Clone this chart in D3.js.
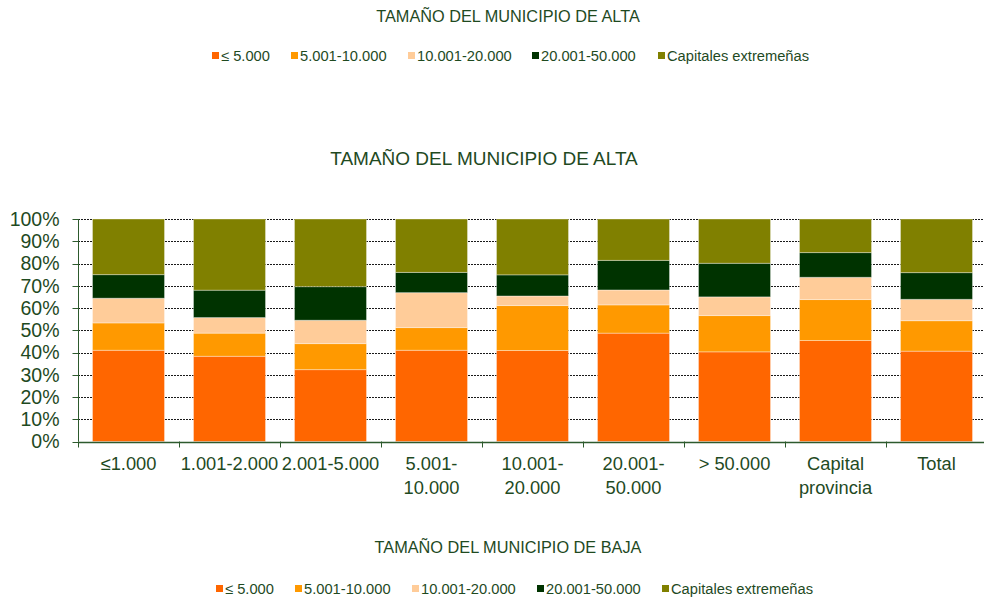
<!DOCTYPE html>
<html>
<head>
<meta charset="utf-8">
<script src="https://cdn.jsdelivr.net/npm/d3@7"></script>
<style>
  body { margin: 0; background: #fff; }
  svg text { font-family: "Liberation Sans", Arial, sans-serif; fill: #1f4a1f; }
</style>
</head>
<body>
<svg id="chart" width="984" height="601"></svg>
<script>
// categories on the x axis (\n = line break)
const categories = ['≤1.000', '1.001-2.000', '2.001-5.000', '5.001-\n10.000', '10.001-\n20.000',
  '20.001-\n50.000', '> 50.000', 'Capital\nprovincia', 'Total']

const seriesNames = ['≤ 5.000', '5.001-10.000', '10.001-20.000', '20.001-50.000', 'Capitales extremeñas']
const seriesColors = ['#ff6600', '#ff9900', '#ffcc99', '#003300', '#808000']

// percentages, one array per series
const hasta5000 = [41.0, 38.3, 32.3, 41.0, 40.9, 48.7, 40.3, 45.4, 40.6]
const de5a10mil = [12.3, 10.4, 11.7, 10.2, 20.2, 12.7, 16.3, 18.4, 13.7]
const de10a20mil = [11.1, 7.0, 10.5, 15.7, 4.3, 6.7, 8.4, 10.0, 9.6]
const de20a50mil = [10.6, 12.3, 15.1, 9.1, 9.5, 13.3, 15.1, 11.1, 12.0]
const capitales = [25.0, 32.0, 30.4, 24.0, 25.1, 18.6, 19.9, 15.1, 24.1]

const yTicks = d3.range(0, 1.01, 0.1)

let svg = d3.select('#chart')

// build rows for d3.stack
let rows = categories.map((c, i) => ({
  cat: c,
  s0: hasta5000[i], s1: de5a10mil[i], s2: de10a20mil[i], s3: de20a50mil[i], s4: capitales[i]
}))
let keys = ['s0', 's1', 's2', 's3', 's4']
let stacked = d3.stack().keys(keys).offset(d3.stackOffsetExpand)(rows)

let x = d3.scaleBand()
  .domain(categories)
  .range([78, 987])
  .paddingInner(0.287)
  .paddingOuter(0.1435)

let y = d3.scaleLinear().domain([0, 1]).range([441.5, 219])

// gridlines
svg.append('g')
  .selectAll('line')
  .data(yTicks.filter(t => t > 0))
  .join('line')
  .attr('x1', 78).attr('x2', 984)
  .attr('y1', d => Math.round(y(d)) + 0.5)
  .attr('y2', d => Math.round(y(d)) + 0.5)
  .attr('stroke', '#1a1a1a')
  .attr('stroke-dasharray', '2,1')
  .attr('stroke-width', 1)

// bars
svg.append('g')
  .selectAll('g')
  .data(stacked)
  .join('g')
  .attr('fill', (d, i) => seriesColors[i])
  .selectAll('rect')
  .data(d => d)
  .join('rect')
  .attr('x', d => x(d.data.cat))
  .attr('width', x.bandwidth())
  .attr('y', d => y(d[1]))
  .attr('height', d => y(d[0]) - y(d[1]))
  .attr('stroke', 'rgba(255,255,255,0.35)')
  .attr('stroke-width', 1)

// y axis
let yAxis = svg.append('g').attr('transform', 'translate(78.5,0)')
yAxis.append('line')
  .attr('y1', y(1)).attr('y2', y(0))
  .attr('stroke', '#2d5a2d')
yAxis.selectAll('.tk')
  .data(yTicks)
  .join('line')
  .attr('x1', -6).attr('x2', 0)
  .attr('y1', d => Math.round(y(d)) + 0.5)
  .attr('y2', d => Math.round(y(d)) + 0.5)
  .attr('stroke', '#2d5a2d')
yAxis.selectAll('text')
  .data(yTicks)
  .join('text')
  .attr('x', -19)
  .attr('y', d => y(d))
  .attr('dy', '0.35em')
  .attr('text-anchor', 'end')
  .attr('font-size', '19.5px')
  .text(d => d3.format('.0%')(d))

// x axis
let xAxis = svg.append('g')
xAxis.append('line')
  .attr('x1', 78).attr('x2', 984)
  .attr('y1', Math.round(y(0)) + 0.5).attr('y2', Math.round(y(0)) + 0.5)
  .attr('stroke', '#2d5a2d').attr('stroke-width', 1.5)
xAxis.selectAll('.tk')
  .data(d3.range(categories.length + 1))
  .join('line')
  .attr('x1', i => Math.round(78 + i * x.step()) + 0.5)
  .attr('x2', i => Math.round(78 + i * x.step()) + 0.5)
  .attr('y1', y(0)).attr('y2', y(0) + 6)
  .attr('stroke', '#2d5a2d')

xAxis.selectAll('text')
  .data(categories)
  .join('text')
  .attr('x', d => x(d) + x.bandwidth() / 2)
  .attr('y', 470)
  .attr('text-anchor', 'middle')
  .attr('font-size', '18.3px')
  .each(function(d) {
    d.split('\n').forEach((line, i) => {
      d3.select(this).append('tspan')
        .attr('x', x(d) + x.bandwidth() / 2)
        .attr('dy', i === 0 ? 0 : 24)
        .text(line)
    })
  })

// titles
let titles = [
  {text: 'TAMAÑO DEL MUNICIPIO DE ALTA', x: 508, y: 16, size: 16.3},
  {text: 'TAMAÑO DEL MUNICIPIO DE ALTA', x: 484, y: 158, size: 19},
  {text: 'TAMAÑO DEL MUNICIPIO DE BAJA', x: 508, y: 547, size: 16.3}
]
svg.selectAll('.title')
  .data(titles)
  .join('text')
  .attr('class', 'title')
  .attr('x', d => d.x)
  .attr('y', d => d.y)
  .attr('dy', '0.35em')
  .attr('text-anchor', 'middle')
  .attr('font-size', d => d.size + 'px')
  .text(d => d.text)

// legends
function legend(yPos, starts) {
  let g = svg.append('g')
  seriesNames.forEach((name, i) => {
    g.append('rect')
      .attr('x', starts[i]).attr('y', yPos - 4)
      .attr('width', 7).attr('height', 7)
      .attr('fill', seriesColors[i])
    g.append('text')
      .attr('x', starts[i] + 9)
      .attr('y', yPos)
      .attr('dy', '0.35em')
      .attr('font-size', '14.7px')
      .text(name)
  })
}
legend(56, [212, 291, 408, 532, 658])
legend(589, [216, 295, 412, 537, 662])
</script>
</body>
</html>
